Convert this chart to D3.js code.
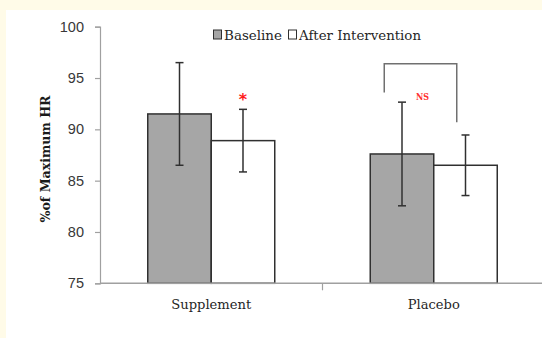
<!DOCTYPE html>
<html>
<head>
<meta charset="utf-8">
<script src="https://cdn.jsdelivr.net/npm/d3@7"></script>
<style>
  html, body { margin: 0; padding: 0; background: #fffbe8; }
  svg { display: block; }
</style>
</head>
<body>
<svg id="chart" width="542" height="338"></svg>
<script>
// Heart-rate response by group, mean ± SD
const categories = ["Supplement", "Placebo"];
const series = ["Baseline", "After Intervention"];
const baselineMeans = [91.5, 87.6];
const afterMeans = [88.9, 86.5];
const baselineSD = [5.0, 5.05];
const afterSD = [3.05, 2.95];
const yTicks = [75, 80, 85, 90, 95, 100];
const seriesFill = ["#a6a6a6", "#ffffff"];

// significance annotations (value units)
const sigStar = { category: "Supplement", series: "After Intervention", label: "*" };
const nsBracket = { category: "Placebo", label: "NS", top: 96.4, leftEnd: 93.6, rightEnd: 90.7 };

const svg = d3.select("#chart");

// white panel on the cream page
svg.append("rect").attr("x", 6).attr("y", 10).attr("width", 536).attr("height", 328).attr("fill", "#ffffff");

const x0 = d3.scaleBand().domain(categories).range([100, 545]).padding(0);
const x1 = d3.scaleBand().domain(series).range([0, x0.bandwidth()]).paddingInner(0).paddingOuter(0.752);
const y = d3.scaleLinear().domain([75, 100]).range([283.3, 26.7]);

const rows = [];
categories.forEach((c, i) => {
  rows.push({ c, s: series[0], v: baselineMeans[i], e: baselineSD[i], fill: seriesFill[0] });
  rows.push({ c, s: series[1], v: afterMeans[i], e: afterSD[i], fill: seriesFill[1] });
});

// y axis
const yAxis = svg.append("g").attr("transform", "translate(100,0)")
  .call(d3.axisLeft(y).tickValues(yTicks).tickSize(5).tickPadding(11).tickFormat(d3.format("d")));
yAxis.select(".domain").attr("stroke", "#a0a0a0").attr("stroke-width", 1.2);
yAxis.selectAll(".tick line").attr("stroke", "#a0a0a0").attr("stroke-width", 1.2);
yAxis.selectAll(".tick text").attr("font-family", "'Liberation Sans', Arial, sans-serif")
  .attr("font-size", 14.5).attr("fill", "#383838");

// bars
svg.append("g").selectAll("rect").data(rows).join("rect")
  .attr("x", d => x0(d.c) + x1(d.s))
  .attr("y", d => y(d.v))
  .attr("width", x1.bandwidth())
  .attr("height", d => y(75) - y(d.v))
  .attr("fill", d => d.fill)
  .attr("stroke", "#303030")
  .attr("stroke-width", 1.5);

// x axis
const xAxis = svg.append("g").attr("transform", `translate(0,${y(75)})`);
xAxis.append("line").attr("x1", 100).attr("x2", 545).attr("stroke", "#a0a0a0").attr("stroke-width", 1.4);
xAxis.selectAll(".sep").data(categories.slice(1)).join("line")
  .attr("x1", d => x0(d)).attr("x2", d => x0(d)).attr("y1", 0).attr("y2", 7)
  .attr("stroke", "#a0a0a0").attr("stroke-width", 1.2);
const catWidths = { Supplement: 80, Placebo: 52 };
xAxis.selectAll(".cat").data(categories).join("text")
  .attr("x", d => x0(d) + x0.bandwidth() / 2)
  .attr("y", 26)
  .attr("text-anchor", "middle")
  .attr("font-family", "'DejaVu Serif', Cambria, serif")
  .attr("font-size", 13.5)
  .attr("fill", "#262626")
  .attr("textLength", d => catWidths[d])
  .attr("lengthAdjust", "spacingAndGlyphs")
  .text(d => d);

// error bars
const eb = svg.append("g").attr("stroke", "#303030").attr("stroke-width", 1.5);
rows.forEach(d => {
  const cx = x0(d.c) + x1(d.s) + x1.bandwidth() / 2;
  eb.append("line").attr("x1", cx).attr("x2", cx).attr("y1", y(d.v + d.e)).attr("y2", y(d.v - d.e));
  [d.v + d.e, d.v - d.e].forEach(v => {
    eb.append("line").attr("x1", cx - 4).attr("x2", cx + 4).attr("y1", y(v)).attr("y2", y(v));
  });
});

// significance star
{
  const r = rows.find(d => d.c === sigStar.category && d.s === sigStar.series);
  const cx = x0(r.c) + x1(r.s) + x1.bandwidth() / 2;
  svg.append("text").attr("x", cx).attr("y", y(r.v + r.e) - 4)
    .attr("text-anchor", "middle")
    .attr("font-family", "'DejaVu Sans', sans-serif").attr("font-weight", "bold")
    .attr("font-size", 16).attr("fill", "#ff1a1a").text(sigStar.label);
}

// NS bracket
{
  const lx = x0(nsBracket.category) + x1(series[0]) + 14;
  const rx = x0(nsBracket.category) + x1(series[1]) + 23;
  svg.append("path")
    .attr("d", `M${lx},${y(nsBracket.leftEnd)} V${y(nsBracket.top)} H${rx} V${y(nsBracket.rightEnd)}`)
    .attr("fill", "none").attr("stroke", "#707070").attr("stroke-width", 1.5);
  svg.append("text").attr("x", (lx + rx) / 2 + 2).attr("y", 100)
    .attr("text-anchor", "middle")
    .attr("font-family", "'DejaVu Serif', serif").attr("font-weight", "bold")
    .attr("font-size", 10).attr("fill", "#ff3030")
    .attr("textLength", 13).attr("lengthAdjust", "spacingAndGlyphs")
    .text(nsBracket.label);
}

// y axis title
svg.append("text")
  .attr("transform", `translate(50,${(y(75) + y(100)) / 2 + 4}) rotate(-90)`)
  .attr("text-anchor", "middle")
  .attr("font-family", "'DejaVu Serif', Cambria, serif")
  .attr("font-weight", "bold")
  .attr("font-size", 13.5)
  .attr("fill", "#1a1a1a")
  .attr("textLength", 127)
  .attr("lengthAdjust", "spacingAndGlyphs")
  .text("%of Maximum HR");

// legend
const legend = svg.append("g");
const legendItems = [
  { name: series[0], fill: seriesFill[0], sx: 213.5, tx: 224, w: 58 },
  { name: series[1], fill: seriesFill[1], sx: 288.5, tx: 299, w: 122 }
];
legendItems.forEach(it => {
  legend.append("rect").attr("x", it.sx).attr("y", 30).attr("width", 8).attr("height", 9)
    .attr("fill", it.fill).attr("stroke", "#303030").attr("stroke-width", 1);
  legend.append("text").attr("x", it.tx).attr("y", 40)
    .attr("font-family", "'DejaVu Serif', Cambria, serif")
    .attr("font-size", 13.5).attr("fill", "#262626")
    .attr("textLength", it.w).attr("lengthAdjust", "spacingAndGlyphs")
    .text(it.name);
});
</script>
</body>
</html>
